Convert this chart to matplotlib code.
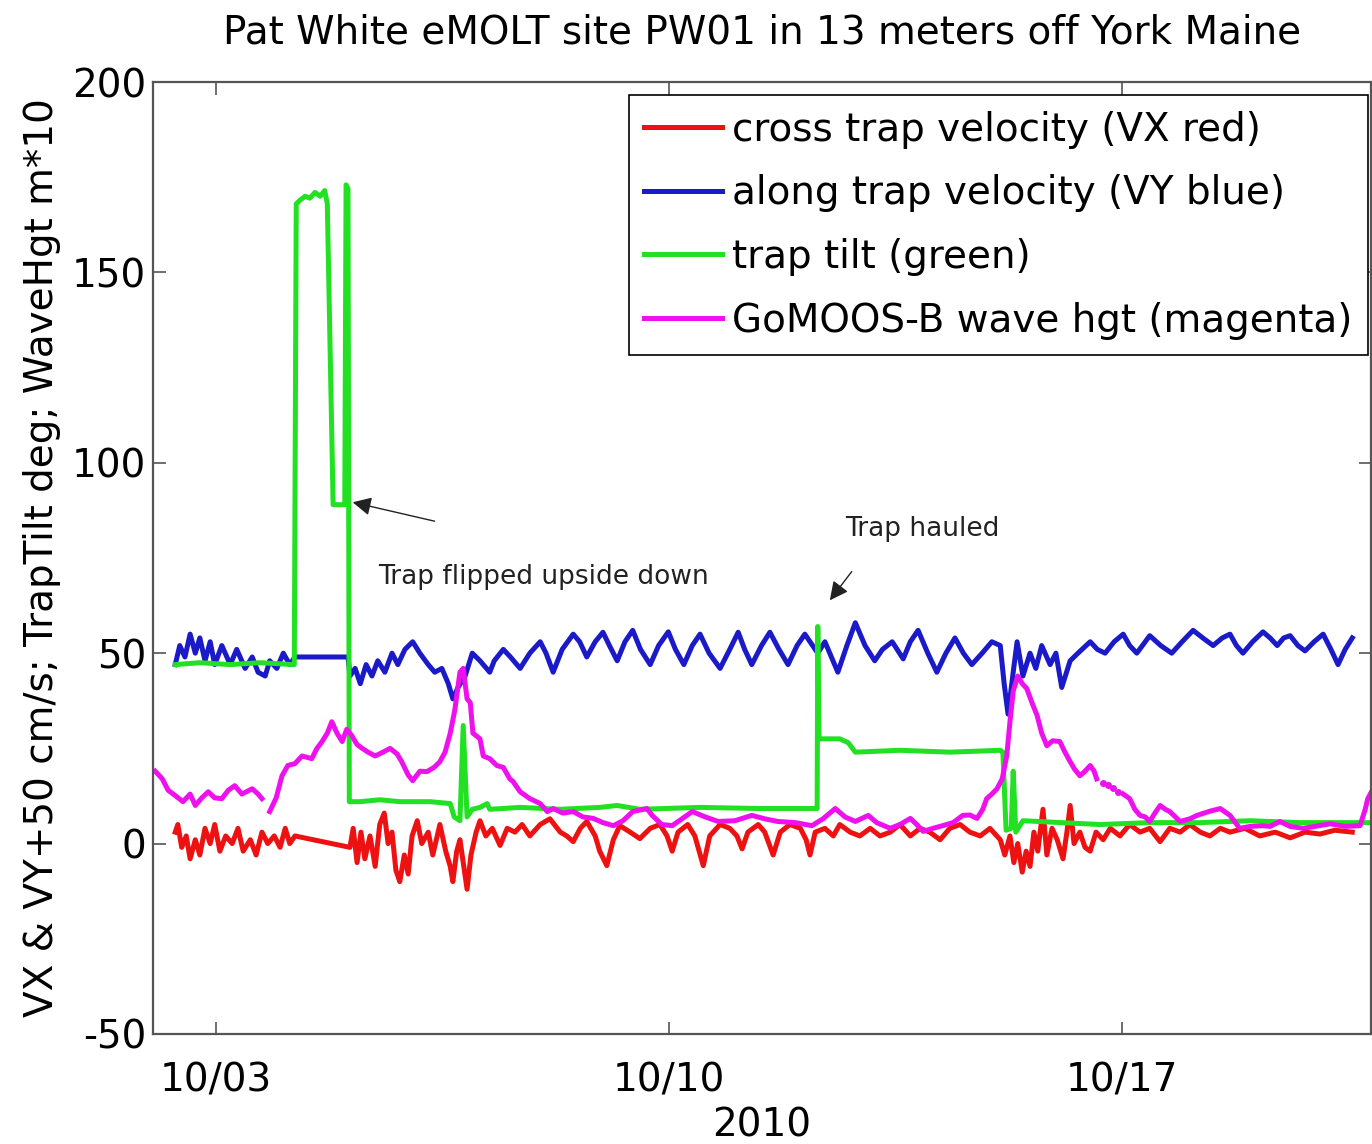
import numpy as np
import matplotlib.pyplot as plt

plt.rcParams['font.family'] = ['DejaVu Sans']
plt.rcParams['axes.unicode_minus'] = False

# time axis: fractional day of October 2010

# cross trap velocity VX (cm/s)
vx_t = [2.37, 2.41, 2.47, 2.54, 2.60, 2.68, 2.75, 2.83, 2.91, 2.98, 3.06, 3.15, 3.25, 3.34,
        3.42, 3.53, 3.62, 3.71, 3.80, 3.90, 3.99, 4.07, 4.14, 4.22,
        5.07, 5.12, 5.18, 5.24, 5.30, 5.38, 5.46, 5.53, 5.60, 5.66, 5.72, 5.78, 5.84, 5.91,
        5.97, 6.03, 6.11, 6.18, 6.28, 6.35, 6.46, 6.55, 6.62, 6.66, 6.72, 6.77, 6.83, 6.88,
        6.94, 7.02, 7.08, 7.17, 7.27, 7.39, 7.50, 7.62, 7.73, 7.85, 8.01, 8.16, 8.32, 8.42,
        8.52, 8.63, 8.73, 8.86, 8.93, 9.04, 9.14, 9.24, 9.40, 9.55, 9.71, 9.86, 9.97, 10.05,
        10.14, 10.29, 10.40, 10.53, 10.63, 10.79, 10.94, 11.05, 11.13, 11.22, 11.38, 11.48,
        11.61, 11.72, 11.87, 12.03, 12.12, 12.18, 12.26, 12.41, 12.54, 12.64, 12.80, 12.95,
        13.11, 13.26, 13.42, 13.57, 13.73, 13.88, 14.03, 14.19, 14.34, 14.50, 14.65, 14.81,
        14.96, 15.12, 15.19, 15.27, 15.33, 15.39, 15.46, 15.52, 15.58, 15.64, 15.70, 15.78,
        15.84, 15.92, 16.00, 16.09, 16.15, 16.20, 16.26, 16.35, 16.43, 16.51, 16.60, 16.71,
        16.82, 16.97, 17.12, 17.28, 17.43, 17.59, 17.74, 17.90, 18.05, 18.21, 18.36, 18.52,
        18.67, 18.90, 19.13, 19.37, 19.60, 19.83, 20.06, 20.29, 20.56]
vx = [3, 5, -1, 2, -4, 1, -3, 4, 0, 5, -2, 2, 0, 4,
      -2, 1, -3, 3, 0, 2, -1, 4, 0, 2,
      -1, 4, -5, 3, -4, 2, -6, 5, 8, 0, 3, -7, -10, -3,
      -8, 2, 6, 0, 3, -3, 5, -2, -6, -10, -2, 1, -6, -12,
      -3, 3, 6, 2, 4, -0.5, 4, 3, 5, 2, 5, 6.5, 3, 2,
      0.5, 4, 5.8, 2, -2, -5.8, 1, 4.7, 3, 1.3, 4, 5, 2, -2,
      3, 5, 2, -5.8, 2, 5, 4, 2, -1.4, 3, 5, 3,
      -3, 3, 5, 4, 1, -3, 3, 4, 2, 5, 3, 2,
      4, 2, 3, 5, 2, 4, 3, 1, 4, 5, 3, 2,
      4, 1, -3, 2, -5, 0, -7.5, -2, -6, 3, -2, 9,
      -3, 4, 1, -4, 3, 10, 0, 3, -1, -2, 3, 1,
      4, 2, 5, 3, 4, 0.5, 4, 3, 5, 3, 2, 4,
      3, 4, 2, 3, 1.5, 3, 2.5, 3.5, 3]

# along trap velocity VY + 50 (cm/s)
vy_t = [2.37, 2.44, 2.52, 2.60, 2.68, 2.75, 2.83, 2.91, 2.98, 3.09, 3.22, 3.32, 3.45, 3.56,
        3.65, 3.76, 3.83, 3.94, 4.04, 4.14, 4.22,
        5.04, 5.07, 5.15, 5.23, 5.32, 5.41, 5.50, 5.61, 5.72, 5.81, 5.92, 6.04, 6.15, 6.28,
        6.38, 6.49, 6.59, 6.66, 6.74, 6.85, 6.96, 7.08, 7.23, 7.30, 7.44, 7.55, 7.70, 7.85,
        8.01, 8.10, 8.21, 8.35, 8.52, 8.62, 8.73, 8.86, 8.98, 9.08, 9.20, 9.32, 9.44, 9.56,
        9.71, 9.84, 9.99, 10.10, 10.23, 10.36, 10.48, 10.62, 10.79, 10.94, 11.07, 11.17,
        11.28, 11.43, 11.56, 11.70, 11.84, 11.98, 12.10, 12.30, 12.41, 12.61, 12.75, 12.88,
        13.03, 13.18, 13.30, 13.45, 13.62, 13.73, 13.85, 14.00, 14.14, 14.28, 14.42, 14.55,
        14.68, 14.84, 14.99, 15.12, 15.18, 15.24, 15.32, 15.38, 15.47, 15.58, 15.67, 15.76,
        15.89, 15.98, 16.07, 16.20, 16.32, 16.51, 16.62, 16.74, 16.88, 17.02, 17.12, 17.23,
        17.43, 17.60, 17.77, 17.93, 18.10, 18.25, 18.41, 18.55, 18.67, 18.77, 18.87, 19.02,
        19.18, 19.29, 19.40, 19.50, 19.60, 19.72, 19.83, 19.97, 20.11, 20.23, 20.34, 20.45,
        20.56]
vy = [47, 52, 49, 55, 50, 54, 48, 53, 47, 52, 47, 51, 46, 49,
      45, 44, 48, 46, 50, 47, 49,
      49, 44, 46, 42, 47, 44, 48, 45, 50, 47, 51, 53, 50, 47,
      45, 46, 42, 38, 41, 44, 50, 48, 45, 48, 51, 49, 46, 50,
      53, 50, 45, 51, 55, 53, 49, 53, 55.5, 52, 48, 53, 56, 51,
      47, 52, 55.6, 51, 47, 52, 55, 50, 46, 51, 55.5, 51,
      47, 52, 55.5, 51, 47, 52, 55, 50, 53, 45, 52, 58,
      52, 48, 51, 53, 48.5, 53, 56, 50, 45, 50, 54, 50,
      47, 50, 53, 52, 42, 34, 45, 53, 44, 50, 46, 52,
      47, 50, 41, 48, 50, 53, 51, 50, 53, 55, 52, 50,
      54.6, 52, 50, 53, 56, 54, 52, 54, 55, 52, 50, 53,
      55.6, 54, 52, 54, 54.6, 52, 50.6, 53, 55, 51, 47, 51,
      54]

# trap tilt (deg)
tilt_t = [2.37, 2.75, 3.22, 3.68, 4.21, 4.24, 4.30, 4.38, 4.45, 4.53, 4.61, 4.68, 4.72,
          4.81, 4.99, 5.01, 5.04, 5.06, 5.23, 5.53, 5.84, 6.31, 6.62, 6.68, 6.77, 6.82,
          6.88, 6.96, 7.08, 7.19, 7.23, 7.70, 8.32, 8.93, 9.20, 9.55, 10.48, 11.41, 12.29,
          12.30, 12.32, 12.64, 12.77, 12.88, 13.57, 14.34, 15.12, 15.16, 15.21, 15.29,
          15.32, 15.36, 15.47, 16.66, 17.43, 18.21, 18.98, 19.75, 20.83]
tilt = [47, 47.5, 47, 47.5, 47, 168, 169, 170, 169.5, 171, 170, 171.5, 168,
        89, 89, 173, 172, 11, 11, 11.5, 11, 11, 10.5, 7, 6, 31,
        7, 9, 9.5, 10.5, 9, 9.5, 9, 9.5, 10, 9, 9.5, 9.2, 9.2,
        57, 27.5, 27.5, 26.5, 24, 24.5, 24, 24.5, 24, 3.5, 4,
        19, 3, 6, 5, 5.5, 5.5, 6, 5.5, 5.5]

# GoMOOS buoy B wave height (m*10)
wave_t = [2.06, 2.17, 2.26, 2.37, 2.49, 2.60, 2.68, 2.78, 2.88, 2.98, 3.09, 3.19, 3.29,
          3.40, 3.56, 3.65, 3.71, 3.74, 3.83, 3.93, 4.02, 4.11, 4.22, 4.33, 4.48, 4.56,
          4.64, 4.72, 4.79, 4.87, 4.95, 5.02, 5.10, 5.18, 5.26, 5.35, 5.46, 5.58, 5.69,
          5.80, 5.87, 5.97, 6.04, 6.15, 6.26, 6.37, 6.46, 6.54, 6.62, 6.69, 6.77, 6.82,
          6.88, 6.93, 6.97, 7.08, 7.13, 7.23, 7.34, 7.44, 7.54, 7.59, 7.70, 7.85, 8.01,
          8.12, 8.21, 8.36, 8.52, 8.67, 8.83, 8.98, 9.14, 9.29, 9.44, 9.66, 9.74, 9.89,
          10.05, 10.20, 10.36, 10.56, 10.76, 11.02, 11.28, 11.48, 11.68, 11.95, 12.21,
          12.38, 12.57, 12.72, 12.88, 13.08, 13.21, 13.42, 13.57, 13.73, 13.83, 13.93,
          14.08, 14.23, 14.39, 14.54, 14.65, 14.76, 14.85, 14.91, 14.99, 15.07, 15.15,
          15.22, 15.27, 15.32, 15.39, 15.46, 15.53, 15.61, 15.69, 15.76, 15.84, 15.93,
          16.04, 16.12, 16.20, 16.27, 16.35, 16.43, 16.51, 16.57, 16.61, 16.66,
          17.02, 17.12, 17.20, 17.28, 17.36, 17.43, 17.51, 17.59, 17.67, 17.74, 17.90,
          18.05, 18.16, 18.36, 18.52, 18.67, 18.82, 18.98, 19.18, 19.29, 19.44, 19.60,
          19.80, 19.98, 20.22, 20.45, 20.68, 20.76, 20.80, 20.87]
wave = [19, 17, 14, 12.6, 11, 13, 10, 12, 13.6, 12, 11.8, 14, 15.2,
        13, 14.4, 13, 11.8, np.nan, 8.4, 12, 17.8, 20.5, 21, 23, 22.3, 25,
        26.8, 29, 32, 29, 26.8, 30, 28.3, 26, 25, 24, 23, 24, 25,
        23.5, 21.5, 18, 16.5, 19, 18.9, 20, 21.5, 24, 29, 35, 45, 46,
        38, 37, 29, 27.5, 23, 22.3, 20.5, 20, 17, 16.3, 13.6, 11.8, 10.5,
        8.4, 9.2, 8, 8.4, 7, 6.6, 5.5, 4.7, 6, 8.4, 9.2, 7.4, 5,
        4.7, 6.5, 8.4, 7, 5.8, 6, 7.4, 6.5, 5.8, 5.5, 4.7,
        6.5, 9.2, 7, 5.8, 7.4, 5.5, 4, 5, 6.6, 5, 3.2,
        4, 4.7, 5.5, 7.4, 7.5, 6.6, 9, 11.8, 13, 14.4, 17,
        23, 32, 40, 44, 42, 40.7, 37, 33.6, 29, 25.7, 27,
        26.8, 24, 21.5, 19.5, 17.8, 19, 20.5, 19, 17, np.nan,
        13, 11.8, 9, 7.4, 7, 5.8, 8, 10, 9, 8.4, 5.8,
        6.5, 7.4, 8.5, 9.2, 7.4, 4, 4.5, 4.7, 4.5, 5.8, 4.5,
        4, 4.5, 5.2, 4.5, 4.7, 9, 11.8, 14]
# sparse wave samples where the record thins out
wave_dot_t = [16.71, 16.78, 16.86, 16.94]
wave_dot = [16, 15.5, 14.5, 13.6]

red = '#ee1111'
blue = '#1a1ac8'
green = '#22e022'
magenta = '#ee11ee'
lw = 3.6

fig = plt.figure(figsize=(13.72, 11.44), dpi=100)
ax = fig.add_axes([0.1115, 0.0962, 0.8878, 0.8321])

ax.plot(vx_t, vx, color=red, lw=lw, label='cross trap velocity (VX red)')
ax.plot(vy_t, vy, color=blue, lw=lw, label='along trap velocity (VY blue)')
ax.plot(tilt_t, tilt, color=green, lw=lw, label='trap tilt (green)')
ax.plot(wave_t, wave, color=magenta, lw=lw, label='GoMOOS-B wave hgt (magenta)')
ax.plot(wave_dot_t, wave_dot, 'o', color=magenta, ms=4)

ax.set_xlim(2.026, 20.85)
ax.set_ylim(-50, 200)
ax.set_xticks([3, 10, 17])
ax.set_xticklabels(['10/03', '10/10', '10/17'])
ax.set_yticks([-50, 0, 50, 100, 150, 200])
ax.tick_params(direction='in', length=9, width=1.2, color='#555555',
               labelsize=28, top=True, right=True)
ax.tick_params(axis='x', pad=20)
ax.tick_params(axis='y', pad=5)
for s in ax.spines.values():
    s.set_color('#555555')
    s.set_linewidth(1.6)

ax.set_title('Pat White eMOLT site PW01 in 13 meters off York Maine', fontsize=28, pad=28)
ax.set_xlabel('2010', fontsize=28, labelpad=5)
ax.set_ylabel('VX & VY+50 cm/s; TrapTilt deg; WaveHgt m*10', fontsize=28, labelpad=8)

ax.annotate('', xy=(5.07, 89.8), xytext=(6.42, 84.5),
            arrowprops=dict(arrowstyle='-|>', color='#222222', lw=1.0, mutation_scale=28))
ax.text(5.50, 70, 'Trap flipped upside down', fontsize=19, color='#222222', va='center')
ax.annotate('', xy=(12.46, 63.3), xytext=(12.85, 72),
            arrowprops=dict(arrowstyle='-|>', color='#222222', lw=1.0, mutation_scale=28))
ax.text(12.72, 82.7, 'Trap hauled', fontsize=19, color='#222222', va='center')

leg = ax.legend(loc='upper right', bbox_to_anchor=(1368 / 1372, 1 - 95 / 1144),
                bbox_transform=fig.transFigure, fontsize=28, fancybox=False,
                edgecolor='black', framealpha=1, borderpad=0.4, labelspacing=0.66,
                handlelength=2.0, handletextpad=0.26, borderaxespad=0)
leg.get_frame().set_linewidth(1.2)

fig.savefig('out.png', dpi=100)
